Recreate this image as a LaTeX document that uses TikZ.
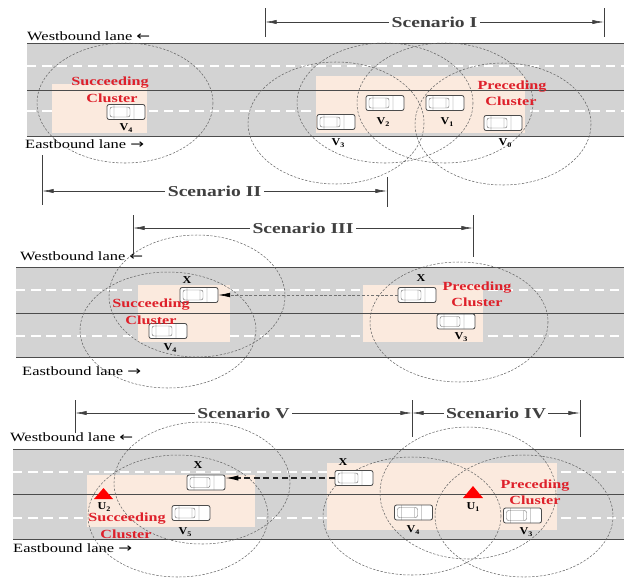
\documentclass[tikz,border=0pt]{standalone}
\usepackage{fontspec}
\setmainfont{Liberation Serif}
\newfontfamily\arrowfont{DejaVu Sans}
\usetikzlibrary{arrows.meta}

\definecolor{roadgray}{RGB}{211,211,211}
\definecolor{clusterfill}{RGB}{251,234,222}
\definecolor{clusterred}{RGB}{222,32,42}

% horizontally widened lettering
\newcommand{\xwide}[1]{\scalebox{1.3}[1]{#1}}
\newcommand{\vwide}[1]{\scalebox{1.15}[1]{#1}}
% letter with a small lowered index
\newcommand{\vsub}[2]{#1\raisebox{-0.35ex}{\fontsize{6}{6}\selectfont #2}}
% direction arrows
\newcommand{\westarrow}{{\arrowfont ←}}
\newcommand{\eastarrow}{{\arrowfont →}}

% inside of a car seen from above; #1 = 1 faces east, -1 faces west
\newcommand{\cardetail}[1]{%
  \begin{scope}[shift={(path picture bounding box.center)}, xscale=#1]
    \draw[black!55, line width=0.4pt]
      (-16,-5) rectangle (4,5)
      (-12,-8) -- (-12,8)
      (1,-5) -- (1,5)
      (8,-8) -- (8,8);
  \end{scope}%
}

\tikzset{
  roadbed/.style={fill=roadgray},
  laneline/.style={draw=black!70, line width=0.6pt},
  lanedash/.style={white, line width=2.4pt, dash pattern=on 8pt off 5pt},
  clusterbox/.style={fill=clusterfill},
  radiorange/.style={black!60, line width=0.45pt, dash pattern=on 2pt off 1.3pt},
  carbase/.style={draw=black!70, line width=0.7pt, fill=white, rounded corners=1.8pt,
    minimum width=1.14cm, minimum height=0.45cm, inner sep=0pt},
  carE/.style={carbase, path picture={\cardetail{1}}},
  carW/.style={carbase, path picture={\cardetail{-1}}},
  lanetext/.style={anchor=base west, inner sep=0pt, font=\fontsize{10.8}{12}\selectfont},
  scen/.style={fill=white, inner sep=2pt, font=\fontsize{12.9}{14}\selectfont\bfseries},
  clab/.style={text=clusterred, inner sep=0pt, font=\fontsize{10.6}{12}\selectfont\bfseries},
  vlab/.style={inner sep=0pt, font=\fontsize{9}{10}\selectfont\bfseries},
  dimline/.style={black!75, line width=0.5pt,
    {Latex[length=10pt,width=3.6pt]}-{Latex[length=10pt,width=3.6pt]}},
  tickline/.style={black!75, line width=0.5pt},
  joinlight/.style={black!55, line width=0.5pt, dash pattern=on 2.5pt off 1.5pt,
    -{Latex[length=10pt,width=4pt,black]}},
  joindark/.style={black!85, line width=0.9pt, dash pattern=on 5pt off 3pt,
    -{Latex[length=11pt,width=4.5pt,black]}},
  rsu/.style={fill=red}
}

\begin{document}
\begin{tikzpicture}[x=0.03cm, y=-0.03cm]
\useasboundingbox (0,0) rectangle (624,579);

% ---------------- Scenarios I and II ----------------
\fill[roadbed] (27,43) rectangle (624,136);
\draw[lanedash] (27,66) -- (624,66) (27,111) -- (624,111);
\fill[clusterbox] (52,84) rectangle (147,133);
\fill[clusterbox] (316,76) rectangle (525,133);
\draw[laneline] (27,43) -- (624,43) (27,90) -- (624,90) (27,136) -- (624,136);

\node[lanetext] (wb1) at (27,40) {\xwide{Westbound lane \westarrow}};
\node[lanetext] (eb1) at (25,148) {\xwide{Eastbound lane \eastarrow}};

\draw[radiorange] (125,103) ellipse [x radius=88, y radius=60];
\draw[radiorange] (336,123) ellipse [x radius=88, y radius=61];
\draw[radiorange] (385,103) ellipse [x radius=88, y radius=60];
\draw[radiorange] (445,103) ellipse [x radius=88, y radius=60];
\draw[radiorange] (503,124) ellipse [x radius=88, y radius=61];

\node[carE] (c1v4) at (126,112) {};
\node[carE] (c1v3) at (336,122) {};
\node[carE] (c1v2) at (385,103) {};
\node[carE] (c1v1) at (445,103) {};
\node[carE] (c1v0) at (503,123) {};

\node[vlab] (l1v4) at (126,128) {\vwide{\vsub{V}{4}}};
\node[vlab] (l1v2) at (383,122) {\vwide{\vsub{V}{2}}};
\node[vlab] (l1v1) at (447,122) {\vwide{\vsub{V}{1}}};
\node[vlab] (l1v3) at (338,143) {\vwide{\vsub{V}{3}}};
\node[vlab] (l1v0) at (505,143) {\vwide{\vsub{V}{0}}};

\node[clab] (s1a) at (110,83) {\xwide{Succeeding}};
\node[clab] (s1b) at (112,98) {\xwide{Cluster}};
\node[clab] (p1a) at (512,87) {\xwide{Preceding}};
\node[clab] (p1b) at (511,101) {\xwide{Cluster}};

\draw[tickline] (265,8) -- (265,37) (604,8) -- (604,37);
\coordinate (sIl) at (265,22);
\coordinate (sIr) at (604,22);
\draw[dimline] (sIl) -- (sIr) node[midway, scen] (sI) {\xwide{Scenario I}};

\draw[tickline] (42,155) -- (42,205) (387,177) -- (387,207);
\coordinate (sIIl) at (42,191);
\coordinate (sIIr) at (387,191);
\draw[dimline] (sIIl) -- (sIIr) node[midway, scen] (sII) {\xwide{Scenario II}};

% ---------------- Scenario III ----------------
\fill[roadbed] (16,267) rectangle (624,357);
\draw[lanedash] (16,290) -- (624,290) (16,336) -- (624,336);
\fill[clusterbox] (138,285) rectangle (230,342);
\fill[clusterbox] (363,285) rectangle (483,342);
\draw[laneline] (16,267) -- (624,267) (16,313) -- (624,313) (16,357) -- (624,357);

\node[lanetext] (wb2) at (20,260) {\xwide{Westbound lane \westarrow}};
\node[lanetext] (eb2) at (22,375) {\xwide{Eastbound lane \eastarrow}};

\draw[radiorange] (197,296) ellipse [x radius=88, y radius=61];
\draw[radiorange] (168,330) ellipse [x radius=88, y radius=58];
\draw[radiorange] (459,322) ellipse [x radius=89, y radius=60];

\node[carW] (c2xl) at (199,295) {};
\node[carE] (c2v4) at (168,331) {};
\node[carW] (c2xr) at (417,295) {};
\node[carE] (c2v3) at (456,321.5) {};

\node[vlab] (l2xl) at (187,280) {\vwide{X}};
\node[vlab] (l2v4) at (170,348) {\vwide{\vsub{V}{4}}};
\node[vlab] (l2xr) at (421,278) {\vwide{X}};
\node[vlab] (l2v3) at (461,337) {\vwide{\vsub{V}{3}}};

\node[clab] (s2a) at (151,305) {\xwide{Succeeding}};
\node[clab] (s2b) at (151,320) {\xwide{Cluster}};
\node[clab] (p2a) at (477,288) {\xwide{Preceding}};
\node[clab] (p2b) at (477,302) {\xwide{Cluster}};

\draw[joinlight] (c2xr.west) -- (c2xl.east);

\draw[tickline] (133,215) -- (133,255) (473,215) -- (473,257);
\coordinate (sIIIl) at (133,228);
\coordinate (sIIIr) at (473,228);
\draw[dimline] (sIIIl) -- (sIIIr) node[midway, scen] (sIII) {\xwide{Scenario III}};

% ---------------- Scenarios IV and V ----------------
\fill[roadbed] (13,449) rectangle (624,539);
\draw[lanedash] (13,472) -- (624,472) (13,518) -- (624,518);
\fill[clusterbox] (87,475) rectangle (255,527);
\fill[clusterbox] (327,463) rectangle (557,530);
\draw[laneline] (13,449) -- (624,449) (13,494) -- (624,494) (13,539) -- (624,539);

\node[lanetext] (wb3) at (10,441) {\xwide{Westbound lane \westarrow}};
\node[lanetext] (eb3) at (13,552) {\xwide{Eastbound lane \eastarrow}};

\draw[radiorange] (202,483) ellipse [x radius=88, y radius=61];
\draw[radiorange] (178,516) ellipse [x radius=90, y radius=61];
\draw[radiorange] (412,516) ellipse [x radius=89, y radius=59];
\draw[radiorange] (468,493) ellipse [x radius=88, y radius=66];
\draw[radiorange] (524,516) ellipse [x radius=89, y radius=61];

\node[carW] (c3xl) at (206,482.5) {};
\node[carE] (c3v5) at (191,513) {};
\node[carW] (c3xr) at (354,478) {};
\node[carE] (c3v4) at (413.5,512.5) {};
\node[carE] (c3v3) at (522.5,515.5) {};

\fill[rsu] (94,499) -- (113,499) -- (103.5,488) -- cycle;
\fill[rsu] (463,498) -- (483,498) -- (473,486) -- cycle;

\node[vlab] (l3u2) at (104,507) {\vwide{\vsub{U}{2}}};
\node[vlab] (l3u1) at (473,507) {\vwide{\vsub{U}{1}}};
\node[vlab] (l3xl) at (198,465) {\vwide{X}};
\node[vlab] (l3v5) at (185,532) {\vwide{\vsub{V}{5}}};
\node[vlab] (l3xr) at (343,462) {\vwide{X}};
\node[vlab] (l3v4) at (413,530) {\vwide{\vsub{V}{4}}};
\node[vlab] (l3v3) at (526,532) {\vwide{\vsub{V}{3}}};

\node[clab] (s3a) at (127,519) {\xwide{Succeeding}};
\node[clab] (s3b) at (126,534) {\xwide{Cluster}};
\node[clab] (p3a) at (535,486) {\xwide{Preceding}};
\node[clab] (p3b) at (535,500) {\xwide{Cluster}};

\draw[joindark] (c3xr.west) -- (c3xr.west -| c3xl.east);

\draw[tickline] (75,400) -- (75,433) (412,400) -- (412,437) (580,400) -- (580,437);
\coordinate (sVl) at (75,413);
\coordinate (sVr) at (412,413);
\coordinate (sIVr) at (580,413);
\draw[dimline] (sVl) -- (sVr) node[midway, scen] (sV) {\xwide{Scenario V}};
\draw[dimline] (sVr) -- (sIVr) node[midway, scen] (sIV) {\xwide{Scenario IV}};

\end{tikzpicture}
\end{document}
